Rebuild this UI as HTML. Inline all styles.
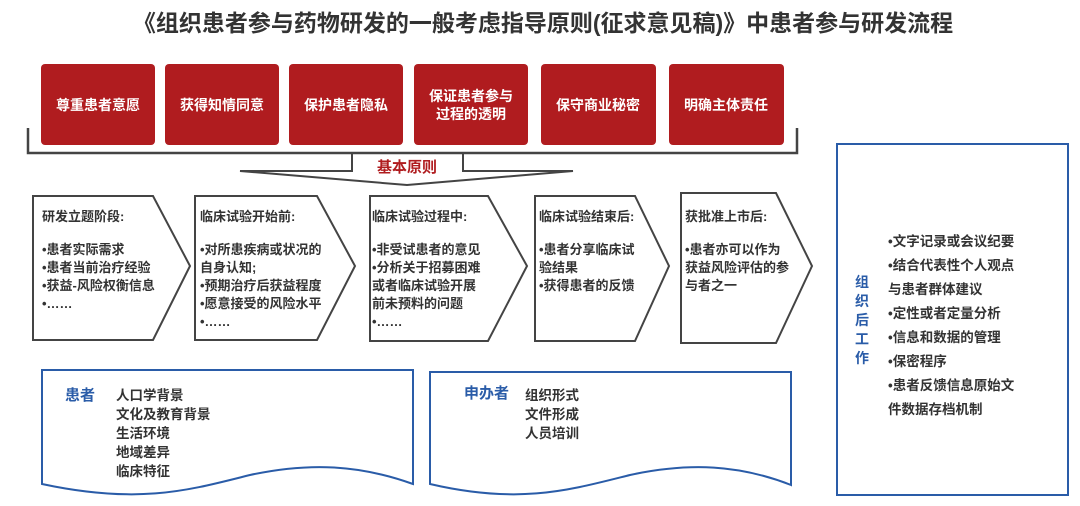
<!DOCTYPE html>
<html><head><meta charset="utf-8"><style>
html,body{margin:0;padding:0;background:#fff;}
svg{display:block;}
text{font-family:"Liberation Sans","Noto Sans CJK SC",sans-serif;font-weight:bold;}
</style></head><body>
<svg width="1080" height="506" viewBox="0 0 1080 506" xmlns="http://www.w3.org/2000/svg">
<text x="543" y="31" text-anchor="middle" font-size="23" fill="#333">《组织患者参与药物研发的一般考虑指导原则(征求意见稿)》中患者参与研发流程</text>
<g fill="#b01c1f">
<rect x="41" y="64" width="114" height="81" rx="4"/>
<rect x="165" y="64" width="114" height="81" rx="4"/>
<rect x="289" y="64" width="114" height="81" rx="4"/>
<rect x="414" y="64" width="114" height="81" rx="4"/>
<rect x="541" y="64" width="115" height="81" rx="4"/>
<rect x="669" y="64" width="115" height="81" rx="4"/>
</g>
<g fill="#fff" font-size="14" text-anchor="middle">
<text x="98" y="110">尊重患者意愿</text>
<text x="222" y="110">获得知情同意</text>
<text x="346" y="110">保护患者隐私</text>
<text x="471" y="101">保证患者参与</text>
<text x="471" y="119">过程的透明</text>
<text x="598" y="110">保守商业秘密</text>
<text x="726" y="110">明确主体责任</text>
</g>
<path d="M28 128 V153 H797 V128" fill="none" stroke="#444" stroke-width="2.5"/>
<path d="M352 153 V171 H240 L407 185 L573 171 H463 V153" fill="none" stroke="#444" stroke-width="2"/>
<text x="407" y="172" text-anchor="middle" font-size="15" fill="#b01c1f">基本原则</text>
<g fill="#fff" stroke="#444" stroke-width="2">
<path d="M33 196 H153 L190 266 L153 340 H33 Z"/>
<path d="M195 196 H317 L355 266 L317 340 H195 Z"/>
<path d="M370 196 H488 L527 266 L488 341 H370 Z"/>
<path d="M535 196 H635 L669 266 L635 341 H535 Z"/>
<path d="M681 193 H776 L812 266 L776 343 H681 Z"/>
</g>
<g font-size="13" fill="#333">
<text x="42" y="221">研发立题阶段:</text>
<text x="42" y="254">•患者实际需求</text>
<text x="42" y="272">•患者当前治疗经验</text>
<text x="42" y="290">•获益-风险权衡信息</text>
<text x="42" y="308">•……</text>
<text x="200" y="221">临床试验开始前:</text>
<text x="200" y="254">•对所患疾病或状况的</text>
<text x="200" y="272">自身认知;</text>
<text x="200" y="290">•预期治疗后获益程度</text>
<text x="200" y="308">•愿意接受的风险水平</text>
<text x="200" y="326">•……</text>
<text x="372" y="221">临床试验过程中:</text>
<text x="372" y="254">•非受试患者的意见</text>
<text x="372" y="272">•分析关于招募困难</text>
<text x="372" y="290">或者临床试验开展</text>
<text x="372" y="308">前未预料的问题</text>
<text x="372" y="326">•……</text>
<text x="539" y="221">临床试验结束后:</text>
<text x="539" y="254">•患者分享临床试</text>
<text x="539" y="272">验结果</text>
<text x="539" y="290">•获得患者的反馈</text>
<text x="685" y="221">获批准上市后:</text>
<text x="685" y="254">•患者亦可以作为</text>
<text x="685" y="272">获益风险评估的参</text>
<text x="685" y="290">与者之一</text>
</g>
<rect x="837" y="144" width="231" height="351" fill="none" stroke="#2a5ca8" stroke-width="2"/>
<g font-size="14" fill="#2a5ca8">
<text x="855" y="287">组</text><text x="855" y="306">织</text><text x="855" y="325">后</text><text x="855" y="344">工</text><text x="855" y="363">作</text>
</g>
<g font-size="13.5" fill="#333">
<text x="888" y="246">•文字记录或会议纪要</text>
<text x="888" y="270">•结合代表性个人观点</text>
<text x="888" y="294">与患者群体建议</text>
<text x="888" y="318">•定性或者定量分析</text>
<text x="888" y="342">•信息和数据的管理</text>
<text x="888" y="366">•保密程序</text>
<text x="888" y="390">•患者反馈信息原始文</text>
<text x="888" y="414">件数据存档机制</text>
</g>
<g fill="none" stroke="#2a5ca8" stroke-width="2">
<path d="M42 370 H413 V484 C360 465 310 462 250 475 C190 490 140 505 42 484 Z"/>
<path d="M430 372 H791 V485 C740 465 690 462 630 475 C570 490 520 505 430 484 Z"/>
</g>
<text x="65" y="400" font-size="15" fill="#2a5ca8">患者</text>
<text x="464" y="398" font-size="15" fill="#2a5ca8">申办者</text>
<g font-size="13.5" fill="#333">
<text x="116" y="400">人口学背景</text>
<text x="116" y="419">文化及教育背景</text>
<text x="116" y="438">生活环境</text>
<text x="116" y="457">地域差异</text>
<text x="116" y="476">临床特征</text>
<text x="525" y="400">组织形式</text>
<text x="525" y="419">文件形成</text>
<text x="525" y="438">人员培训</text>
</g>
</svg>
</body></html>
